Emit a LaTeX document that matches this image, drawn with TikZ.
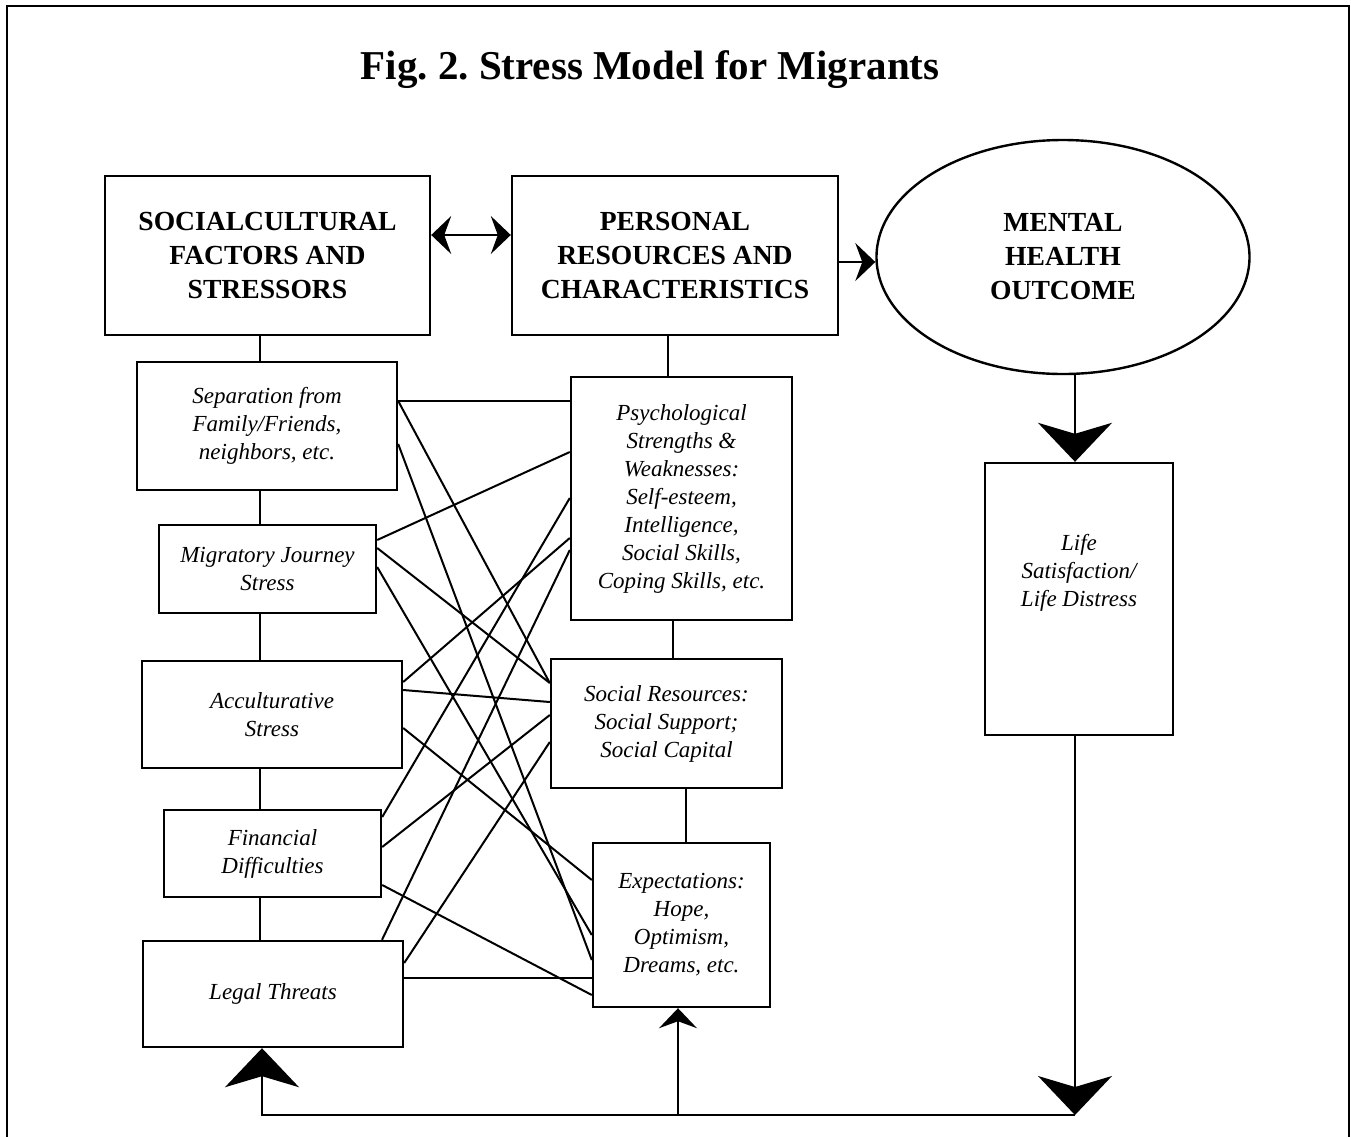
\documentclass[tikz,border=0pt]{standalone}
\usepackage{fontspec}
\setmainfont{Liberation Serif}
\frenchspacing
\usetikzlibrary{arrows.meta,shapes.geometric}

\tikzset{
  box/.style={rectangle, draw, line width=1.2pt, align=center, font=\fontsize{11.5}{14}\selectfont\itshape},
  headbox/.style={rectangle, draw, line width=1.2pt, align=center, font=\fontsize{13.8}{17}\selectfont\bfseries},
  smalltip/.tip={Stealth[length=10pt,width=19pt,inset=3.5pt]},
  bigtip/.tip={Stealth[length=19.5pt,width=37pt,inset=5.5pt]},
}

\begin{document}
\begin{tikzpicture}[x=0.5pt,y=-0.5pt,line width=1pt]
\useasboundingbox (0,0) rectangle (1351,1137);
\draw[line width=1.3pt] (7,1137) -- (7,6) -- (1349,6) -- (1349,1137);

\node[font=\fontsize{20.5}{24}\selectfont\bfseries] (title) at (650,70) {Fig. 2. Stress Model for Migrants};

% top row
\node[headbox, minimum width=162.5pt, minimum height=79.5pt] (socio) at (267.5,255.5) {SOCIALCULTURAL\\FACTORS AND\\STRESSORS};
\node[headbox, minimum width=163pt, minimum height=79.5pt] (personal) at (675,255.5) {PERSONAL\\RESOURCES AND\\CHARACTERISTICS};
\node[headbox, ellipse, minimum width=186.5pt, minimum height=117pt] (outcome) at (1063,257) {MENTAL\\HEALTH\\OUTCOME};

% stressors
\node[box, minimum width=130pt, minimum height=64pt] (sep) at (267,426) {Separation from\\Family/Friends,\\neighbors, etc.};
\node[box, minimum width=108.5pt, minimum height=44pt] (mig) at (267.5,569) {Migratory Journey\\Stress};
\node[box, minimum width=130pt, minimum height=53.5pt] (acc) at (272,714.5) {Acculturative\\Stress};
\node[box, minimum width=108.5pt, minimum height=43.5pt] (fin) at (272.5,853.5) {Financial\\Difficulties};
\node[box, minimum width=130pt, minimum height=53pt] (legal) at (273,994) {Legal Threats};

% resources
\node[box, minimum width=110.5pt, minimum height=121.5pt] (psych) at (681.5,498.5) {Psychological\\Strengths \&\\Weaknesses:\\Self-esteem,\\Intelligence,\\Social Skills,\\Coping Skills, etc.};
\node[box, minimum width=115.5pt, minimum height=64.5pt] (social) at (666.5,723.5) {Social Resources:\\Social Support;\\Social Capital};
\node[box, minimum width=88.5pt, minimum height=82pt] (expect) at (681.5,925) {Expectations:\\Hope,\\Optimism,\\Dreams, etc.};

% outcome
\node[box, minimum width=94pt, minimum height=136pt,
  label={[name=lifetext, align=center, font=\fontsize{11.5}{14}\selectfont\itshape, yshift=13pt]center:{Life\\Satisfaction/\\Life Distress}}] (life) at (1079,599) {};

% columns
\coordinate (lc) at (260,0);
\foreach \a/\b in {socio/sep, sep/mig, mig/acc, acc/fin, fin/legal}
  \draw (\a.south -| lc) -- (\b.north -| lc);
\draw (personal.south -| 668,0) -- (psych.north -| 668,0);
\draw (psych.south -| 673,0) -- (social.north -| 673,0);
\draw (social.south -| 686,0) -- (expect.north -| 686,0);

% every stressor to every resource
\foreach \a/\ya/\b/\yb in {sep/401/psych/401, sep/401/social/683, sep/444/expect/960,
    mig/540/psych/452, mig/548/social/683, mig/567/expect/935,
    acc/682/psych/538, acc/690/social/702, acc/728/expect/880,
    fin/817/psych/498, fin/847/social/715, fin/885/expect/995,
    legal/963/social/742, legal/978/expect/978}
  \draw (\a.east |- 0,\ya) -- (\b.west |- 0,\yb);
\draw (legal.north -| 382,0) -- (psych.west |- 0,550);

% arrows
\draw[smalltip-smalltip] (socio.east |- 0,235) -- (personal.west |- 0,235);
\draw[-smalltip] (personal.east |- 0,262) -- (outcome.west |- 0,262);
\coordinate (fb) at (1075,1115);
\draw[-bigtip] (outcome.south -| fb) -- (life.north -| fb);
\draw[-bigtip] (life.south -| fb) -- (fb);
\draw[-bigtip] (fb) -| (legal.south -| 262,0);
\draw[-smalltip] (fb -| 678,0) -- (expect.south -| 678,0);
\end{tikzpicture}
\end{document}
